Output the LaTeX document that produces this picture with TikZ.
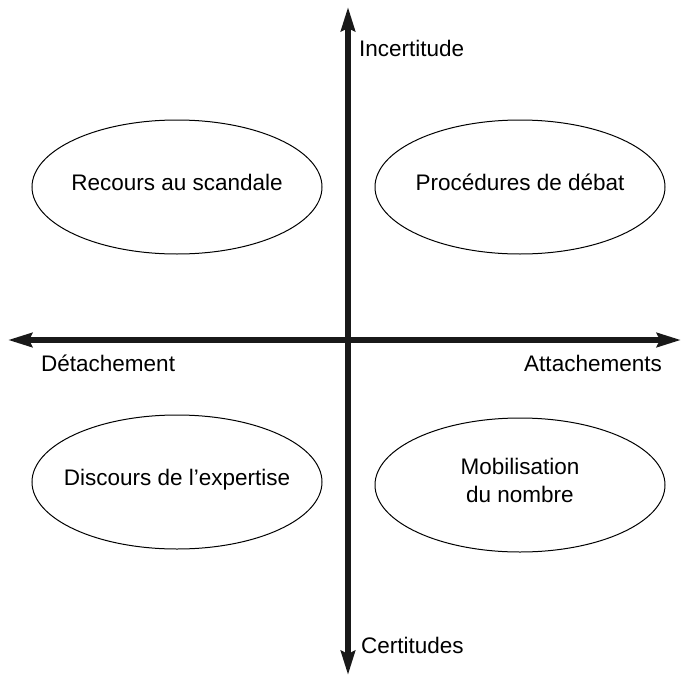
\documentclass[tikz,border=0pt]{standalone}
\usepackage{fontspec}
\setmainfont{Liberation Sans}
\usetikzlibrary{arrows.meta,shapes.geometric}
\tikzset{axisTip/.tip={Stealth[length=24pt,width=14pt,inset=3pt]}}
\begin{document}
\begin{tikzpicture}
[x=1pt,y=-1pt,%
  axisDecorate/.style={axisTip-axisTip,line width=5.5pt,color=black!90},
  nodeDecorate/.style={shape=ellipse,draw,line width=1pt,minimum width=290pt,
    minimum height=134pt,inner ysep=0pt,inner xsep=-50pt,text height=16pt,text depth=10pt},
  labelDecorate/.style={inner sep=0pt},
  font=\fontsize{22.5}{28}\selectfont]
\useasboundingbox (0,0) rectangle (683,677);
%% axes
\coordinate (north) at (348,7);
\coordinate (south) at (348,675);
\coordinate (west) at (8,340);
\coordinate (east) at (681,340);
\draw[axisDecorate] (west) -- (east);
\draw[axisDecorate] (south) -- (north);
%% axis labels
\node (incertitude) at (359,57) [labelDecorate,anchor=base west] {Incertitude};
\node (certitudes) at (361,653) [labelDecorate,anchor=base west] {Certitudes};
\node (detachement) at (41,371) [labelDecorate,anchor=base west] {Détachement};
\node (attachements) at (662,371) [labelDecorate,anchor=base east] {Attachements};
%% quadrants
\foreach \nodename/\x/\y/\txt in {
  recours/177/187/{Recours au scandale},
  debat/520/187/{Procédures de débat},
  expertise/177/482/{Discours de l’expertise},
  nombre/520/485/{\setlength{\tabcolsep}{0pt}\begin{tabular}{c}Mobilisation\\du nombre\end{tabular}}}
{
  \node (\nodename) at (\x,\y) [nodeDecorate] {\txt};
}
\end{tikzpicture}
\end{document}
